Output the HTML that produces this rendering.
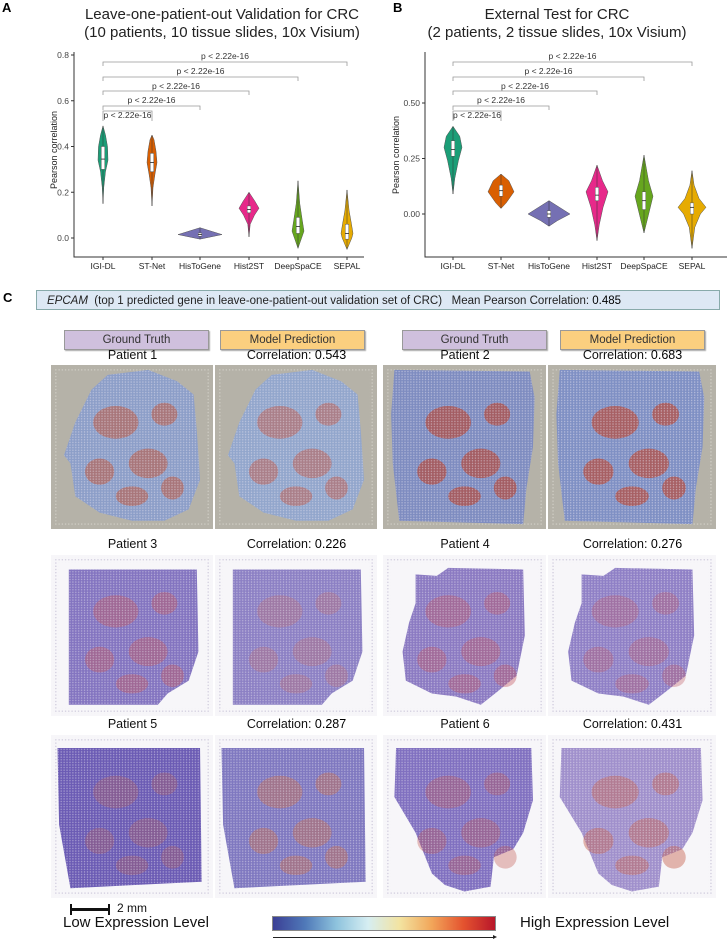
<!DOCTYPE html>
<html><head><meta charset="utf-8">
<style>
body{margin:0;background:#fff;width:727px;height:941px;position:relative;overflow:hidden;font-family:"Liberation Sans",sans-serif;}
.abs{position:absolute;}
.lbl{position:absolute;font-size:13px;font-weight:bold;color:#000;}
.btn{position:absolute;height:18px;font-size:11.5px;text-align:center;line-height:18px;color:#333;border:1px solid #999;box-shadow:1px 1px 1px #aaa;}
.gt{background:#cfc0dd;}
.mp{background:#fbcf7f;}
.ttl{position:absolute;font-size:12.5px;color:#111;text-align:center;width:165px;}
.img{position:absolute;}
</style></head>
<body>
<svg id="charts" class="abs" style="left:0;top:0" width="727" height="285"></svg>

<div class="lbl" style="left:3px;top:290px">C</div>
<div class="abs" style="left:36px;top:290px;width:684px;height:20px;background:#dde8f4;border:1px solid #8aa;font-size:11.5px;line-height:20px;color:#222;box-sizing:border-box;padding-left:10px;white-space:nowrap;">
<i>EPCAM</i>&nbsp; (top 1 predicted gene in leave-one-patient-out validation set of CRC)&nbsp;&nbsp; Mean Pearson Correlation: <b style="font-weight:normal;color:#000">0.485</b></div>

<div class="btn gt" style="left:64px;top:330px;width:143px">Ground Truth</div>
<div class="btn mp" style="left:220px;top:330px;width:143px">Model Prediction</div>
<div class="btn gt" style="left:402px;top:330px;width:143px">Ground Truth</div>
<div class="btn mp" style="left:560px;top:330px;width:143px">Model Prediction</div>

<div id="grid"></div>

<div class="abs" style="left:70px;top:908px;width:40px;height:3px;background:#111"></div>
<div class="abs" style="left:70px;top:904px;width:2px;height:11px;background:#111"></div>
<div class="abs" style="left:108px;top:904px;width:2px;height:11px;background:#111"></div>
<div class="abs" style="left:117px;top:901px;font-size:12px;color:#111">2 mm</div>

<div class="abs" style="left:63px;top:914px;font-size:15px;color:#111">Low Expression Level</div>
<div class="abs" style="left:520px;top:914px;font-size:15px;color:#111">High Expression Level</div>
<div class="abs" style="left:272px;top:916px;width:224px;height:15px;border:1px solid #888;box-sizing:border-box;background:linear-gradient(to right,#3b3f95,#4f78b8,#8ec3dd,#d6eef2,#f3e3a0,#f2a65a,#e4532f,#b8162a)"></div>
<div class="abs" style="left:273px;top:937px;width:220px;height:1px;background:#222"></div>
<div class="abs" style="left:493px;top:935px;width:0;height:0;border-left:4px solid #222;border-top:2.5px solid transparent;border-bottom:2.5px solid transparent"></div>

<script>
// ---------- violin data ----------
const categories = ["IGI-DL","ST-Net","HisToGene","Hist2ST","DeepSpaCE","SEPAL"];
const colors = ["#1b9e77","#d95f02","#7570b3","#e7298a","#66a61e","#e6ab02"];
// Panel A: violin profiles [value, relative half-width 0..1]
const violinA_IGIDL = [[0.15,0],[0.22,0.15],[0.29,0.5],[0.34,1],[0.40,0.9],[0.45,0.5],[0.49,0]];
const violinA_STNet = [[0.14,0],[0.22,0.2],[0.28,0.6],[0.33,1],[0.38,0.8],[0.43,0.4],[0.45,0]];
const violinA_HisToGene = [[-0.005,0],[0.005,0.5],[0.015,1],[0.03,0.5],[0.045,0]];
const violinA_Hist2ST = [[0.005,0],[0.06,0.12],[0.10,0.55],[0.13,1],[0.16,0.6],[0.2,0]];
const violinA_DeepSpaCE = [[-0.045,0],[0.0,0.6],[0.03,1],[0.08,0.7],[0.15,0.3],[0.25,0]];
const violinA_SEPAL = [[-0.05,0],[0.0,0.8],[0.02,1],[0.06,0.75],[0.12,0.35],[0.21,0]];
const widthA = [5,5,22,10,6,6];
const q1A = [0.30,0.29,0.008,0.11,0.02,-0.005];
const medA = [0.345,0.33,0.015,0.125,0.05,0.02];
const q3A = [0.40,0.37,0.022,0.14,0.09,0.06];
const ticksA = [0.0,0.2,0.4,0.6,0.8];
const tickLabelsA = ["0.0","0.2","0.4","0.6","0.8"];
// Panel B
const violinB_IGIDL = [[0.09,0],[0.16,0.2],[0.24,0.6],[0.30,1],[0.35,0.75],[0.395,0]];
const violinB_STNet = [[0.025,0],[0.05,0.4],[0.10,1],[0.15,0.6],[0.18,0]];
const violinB_HisToGene = [[-0.055,0],[-0.03,0.4],[0.0,1],[0.03,0.5],[0.06,0]];
const violinB_Hist2ST = [[-0.12,0],[-0.05,0.2],[0.03,0.55],[0.10,1],[0.15,0.5],[0.22,0]];
const violinB_DeepSpaCE = [[-0.085,0],[-0.02,0.4],[0.08,1],[0.15,0.5],[0.265,0]];
const violinB_SEPAL = [[-0.155,0],[-0.06,0.2],[0.0,0.6],[0.03,1],[0.07,0.5],[0.13,0.15],[0.195,0]];
const widthB = [9,13,21,11,9,14];
const q1B = [0.26,0.08,-0.015,0.06,0.02,0.0];
const medB = [0.29,0.105,0.0,0.085,0.06,0.03];
const q3B = [0.33,0.13,0.015,0.12,0.10,0.05];
const ticksB = [0.0,0.25,0.5];
const tickLabelsB = ["0.00","0.25","0.50"];
const pLabel = "p < 2.22e-16";

const NS="http://www.w3.org/2000/svg";
const svg=document.getElementById('charts');
function mk(tag,attrs,parent){const e=document.createElementNS(NS,tag);for(const k in attrs)e.setAttribute(k,attrs[k]);(parent||svg).appendChild(e);return e;}

function drawPanel(cfg){
  const g=mk('g',{});
  
  
  const y=v=>cfg.y0-(v-0)*cfg.scale;
  const x=i=>cfg.xs[i];
  let t=mk('text',{x:cfg.letterX,y:12,'font-size':13,'font-weight':'bold',fill:'#000'},g);t.textContent=cfg.letter;
  
  cfg.title.forEach((s,k)=>{const tt=mk('text',{x:cfg.titleX,y:19+k*18,'font-size':15,'text-anchor':'middle',fill:'#222'},g);tt.textContent=s;
    });
  const ax=mk('path',{d:`M${cfg.axX},${cfg.axTop} V${cfg.axBottom} H${cfg.axRight}`,stroke:'#333','stroke-width':1,fill:'none'},g);
  
  cfg.ticks.forEach((v,i)=>{
    mk('line',{x1:cfg.axX-3,x2:cfg.axX,y1:y(v),y2:y(v),stroke:'#333'},g);
    const tl=mk('text',{x:cfg.axX-5,y:y(v)+3,'font-size':8.5,'text-anchor':'end',fill:'#444'},g);tl.textContent=cfg.tickLabels[i];
    
  });
  const yt=mk('text',{x:0,y:0,'font-size':9,'text-anchor':'middle',fill:'#222',transform:`translate(${cfg.ytX},${cfg.ytY}) rotate(-90)`},g);yt.textContent='Pearson correlation';
  
  categories.forEach((c,i)=>{
    mk('line',{x1:x(i),x2:x(i),y1:cfg.axBottom,y2:cfg.axBottom+3,stroke:'#333'},g);
    const xl=mk('text',{x:x(i),y:cfg.axBottom+12,'font-size':8.5,'text-anchor':'middle',fill:'#222'},g);xl.textContent=c;
    
    const prof=cfg.violins[i], w=cfg.widths[i];
    let d='M'+prof.map(p=>`${x(i)+p[1]*w},${y(p[0])}`).join(' L');
    d+=' L'+prof.slice().reverse().map(p=>`${x(i)-p[1]*w},${y(p[0])}`).join(' L')+'Z';
    const v=mk('path',{d:d,fill:colors[i],stroke:'#555','stroke-width':0.5,'stroke-linejoin':'round'},g);
    
    mk('line',{x1:x(i),x2:x(i),y1:y(prof[0][0]),y2:y(prof[prof.length-1][0]),stroke:'#333','stroke-width':0.5},g);
    const b=mk('rect',{x:x(i)-1.8,y:y(cfg.q3[i]),width:3.6,height:Math.max(1,y(cfg.q1[i])-y(cfg.q3[i])),fill:'#fff',stroke:'#444','stroke-width':0.4},g);
    
    mk('line',{x1:x(i)-1.8,x2:x(i)+1.8,y1:y(cfg.med[i]),y2:y(cfg.med[i]),stroke:'#222','stroke-width':0.8},g);
  });
  const lines=[111,106,91,77,62], texts=[116,101,87,72,57], tips=[10,4,4,4,4];
  for(let j=1;j<6;j++){
    const ly=lines[j-1];
    const br=mk('path',{d:`M${x(0)},${ly+tips[j-1]} V${ly} H${x(j)} V${ly+tips[j-1]}`,stroke:'#999','stroke-width':0.8,fill:'none'},g);
    
    const pt=mk('text',{x:(x(0)+x(j))/2,y:texts[j-1]-1+3,'font-size':8.5,'text-anchor':'middle',fill:'#333'},g);pt.textContent=pLabel;
    
  }
}
drawPanel({name:'panel-a-chart',letter:'A',letterX:2,title:['Leave-one-patient-out Validation for CRC','(10 patients, 10 tissue slides, 10x Visium)'],titleX:222,
  y0:238,scale:228.75,axX:74,axTop:52,axBottom:257,axRight:364,xs:[103,152,200,249,298,347],ytX:57,ytY:150,
  ticks:ticksA,tickLabels:tickLabelsA,violins:[violinA_IGIDL,violinA_STNet,violinA_HisToGene,violinA_Hist2ST,violinA_DeepSpaCE,violinA_SEPAL],
  widths:widthA,q1:q1A,med:medA,q3:q3A});
drawPanel({name:'panel-b-chart',letter:'B',letterX:393,title:['External Test for CRC','(2 patients, 2 tissue slides, 10x Visium)'],titleX:557,
  y0:214,scale:222,axX:425,axTop:52,axBottom:257,axRight:727,xs:[453,501,549,597,644,692],ytX:399,ytY:155,
  ticks:ticksB,tickLabels:tickLabelsB,violins:[violinB_IGIDL,violinB_STNet,violinB_HisToGene,violinB_Hist2ST,violinB_DeepSpaCE,violinB_SEPAL],
  widths:widthB,q1:q1B,med:medB,q3:q3B});

// ---------- tissue images ----------
const shapes={
 p1:"35,6 60,3 78,10 88,18 90,40 92,70 85,88 70,95 50,95 30,90 15,80 12,60 8,55 15,35 20,25 25,15",
 p2:"7,3 90,4 93,20 92,50 88,75 86,97 10,95 6,60 5,30",
 p3:"11,9 90,9 91,60 85,78 72,86 66,93 11,93",
 p4:"20,12 33,13 40,8 86,9 87,50 82,75 70,85 60,93 45,88 30,86 14,78 12,60 16,42 20,30",
 p5:"4,8 92,8 93,90 12,94 5,55",
 p6:"8,8 91,8 92,40 86,60 80,70 68,75 66,93 50,96 38,92 30,85 20,60 7,38"
};
const rows=[
 {titleY:348,imgY:365,h:164,bg:'#b5b2a8',tiles:[['p1','Patient 1',null,'#8c9ec8','#c0563c',0.55],['p1','Correlation: ','0.543','#92a6cc','#c8503a',0.45],['p2','Patient 2',null,'#7e8cc0','#b44a3c',0.7],['p2','Correlation: ','0.683','#7f90c4','#b84d3c',0.7]]},
 {titleY:537,imgY:555,h:161,bg:'#f7f6f9',tiles:[['p3','Patient 3',null,'#8374c0','#c25a62',0.45],['p3','Correlation: ','0.226','#8c80c4','#c86a60',0.3],['p4','Patient 4',null,'#8b7ac2','#c25560',0.4],['p4','Correlation: ','0.276','#8f80c6','#c05a64',0.35]]},
 {titleY:717,imgY:735,h:163,bg:'#f7f6f9',tiles:[['p5','Patient 5',null,'#6b5bb4','#c0604e',0.3],['p5','Correlation: ','0.287','#7f78c0','#c8704e',0.45],['p6','Patient 6',null,'#8070c0','#c2544e',0.35],['p6','Correlation: ','0.431','#a090cc','#c86450',0.45]]}
];
const colsX=[51,215,383,548], colsW=[162,162,163,168];
const grid=document.getElementById('grid');
rows.forEach((r,ri)=>{
  r.tiles.forEach((tl,ci)=>{
    const t=document.createElement('div');
    t.className='ttl';
    
    
    t.style.left=(colsX[ci]+colsW[ci]/2-82)+'px';t.style.top=r.titleY+'px';
    t.innerHTML=tl[1]+(tl[2]?'<span style="color:#000">'+tl[2]+'</span>':'');
    grid.appendChild(t);
    const s=document.createElementNS(NS,'svg');
    
    
    s.setAttribute('class','img');
    s.setAttribute('width',colsW[ci]);s.setAttribute('height',r.h);
    s.setAttribute('viewBox','0 0 100 100');s.setAttribute('preserveAspectRatio','none');
    s.style.left=colsX[ci]+'px';s.style.top=r.imgY+'px';
    const id='pt'+ri+'_'+ci;
    const dotCol=ri===0?'#d4d2ca':'#c9c4d8';
    s.innerHTML=`<defs><pattern id="${id}" width="1.8" height="1.6" patternUnits="userSpaceOnUse"><circle cx="0.9" cy="0.8" r="0.45" fill="#e8e4f0" opacity="0.5"/></pattern>
    <pattern id="${id}b" width="2" height="2" patternUnits="userSpaceOnUse"><circle cx="1" cy="1" r="0.4" fill="${dotCol}"/></pattern></defs>
    <rect width="100" height="100" fill="${r.bg}"/>
    <rect x="3" y="3" width="94" height="94" fill="none" stroke="url(#${id}b)" stroke-width="3"/>
    <polygon points="${shapes[tl[0]]}" fill="${tl[3]}"/>
    <g opacity="${tl[5]}" fill="${tl[4]}">
     <ellipse cx="40" cy="35" rx="14" ry="10"/><ellipse cx="60" cy="60" rx="12" ry="9"/><ellipse cx="30" cy="65" rx="9" ry="8"/>
     <ellipse cx="70" cy="30" rx="8" ry="7"/><ellipse cx="50" cy="80" rx="10" ry="6"/><ellipse cx="75" cy="75" rx="7" ry="7"/>
    </g>
    <polygon points="${shapes[tl[0]]}" fill="url(#${id})"/>`;
    grid.appendChild(s);
  });
});
</script>
</body></html>
